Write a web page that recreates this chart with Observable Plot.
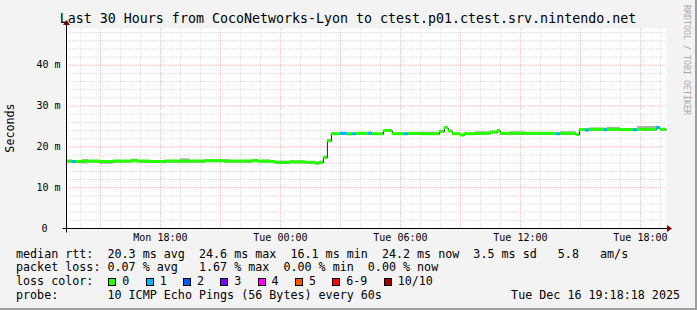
<!DOCTYPE html>
<html>
<head>
<meta charset="utf-8">
<script src="https://cdn.jsdelivr.net/npm/d3@7"></script>
<script src="https://cdn.jsdelivr.net/npm/@observablehq/plot@0.6"></script>
<style>
  body { margin: 0; background: #f3f3f3; }
  #chart svg { display: block; }
</style>
</head>
<body>
<div id="chart"></div>
<script>
// ---------- data ----------
const startTime = "Mon 13:18:18";
const endTime = "Tue 19:18:18";

const segStart = [
  "Mon 13:18","Mon 13:36","Mon 13:48","Mon 14:06","Mon 14:24","Mon 15:00","Mon 15:39","Mon 16:33",
  "Mon 16:54","Mon 17:30","Mon 18:15","Mon 19:00","Mon 19:30","Mon 20:15","Mon 21:12","Mon 21:30",
  "Mon 22:36","Mon 22:54","Mon 23:09","Mon 23:30","Mon 23:45","Tue 00:30","Tue 01:15","Tue 01:45",
  "Tue 01:57","Tue 02:09","Tue 02:21","Tue 02:33","Tue 03:00","Tue 03:21","Tue 03:36","Tue 03:48",
  "Tue 04:24","Tue 04:36","Tue 05:09","Tue 05:36","Tue 06:12","Tue 06:24","Tue 07:00","Tue 07:57",
  "Tue 08:12","Tue 08:24","Tue 08:36","Tue 09:00","Tue 09:12","Tue 09:45","Tue 10:30","Tue 10:51",
  "Tue 11:00","Tue 11:30","Tue 12:15","Tue 13:48","Tue 14:00","Tue 14:48","Tue 14:57","Tue 15:15",
  "Tue 15:27","Tue 16:12","Tue 16:21","Tue 17:00","Tue 17:39","Tue 17:51","Tue 18:48","Tue 19:00"
];
const median = [
  16.4,16.3,16.3,16.4,16.4,16.3,16.4,16.5,
  16.4,16.3,16.4,16.4,16.4,16.5,16.4,16.4,
  16.5,16.4,16.4,16.3,16.1,16.2,16.1,15.9,
  16.1,17.3,21.4,23.1,23.2,23.1,23.1,23.2,
  23.2,23.1,23.9,23.1,23.1,23.2,23.1,23.7,
  24.6,23.8,23.1,22.8,23.1,23.2,23.5,23.9,
  23.2,23.2,23.2,23.1,23.2,22.9,24.1,24.0,
  24.2,24.1,24.2,24.1,24.1,24.2,24.6,24.2
];
const smokeLo = [
  16.0,16.0,15.9,15.8,16.0,15.7,16.0,16.1,
  16.0,15.9,16.0,16.0,16.0,16.1,16.0,16.0,
  16.1,16.0,16.0,15.9,15.7,15.8,15.8,15.6,
  15.8,17.0,21.1,22.8,22.9,22.7,22.8,22.9,
  22.8,22.8,23.6,22.8,22.8,22.9,22.8,23.4,
  24.3,23.5,22.8,22.5,22.8,22.9,23.2,23.6,
  22.9,22.8,22.9,22.8,22.8,22.6,23.8,23.7,
  23.8,23.7,23.9,23.8,23.7,23.9,24.3,23.9
];
const smokeHi = [
  16.7,16.6,16.6,16.9,16.7,16.6,16.7,17.0,
  16.7,16.6,16.7,17.1,16.7,16.8,16.9,16.7,
  16.9,16.7,16.8,16.6,16.5,16.6,16.4,16.3,
  16.4,17.7,21.8,23.4,23.5,23.4,23.4,23.5,
  23.6,23.4,24.2,23.4,23.4,23.5,23.6,24.0,
  24.9,24.1,23.4,23.1,23.4,23.7,23.8,24.2,
  23.5,23.7,23.5,23.4,23.7,23.2,24.4,24.5,
  24.6,24.6,24.8,24.5,24.5,25.0,24.9,24.5
];
const lossBucket = [
  0,1,0,0,0,0,0,0,
  0,0,0,0,0,0,0,0,
  0,0,0,0,0,0,0,0,
  0,0,0,0,1,0,1,0,
  1,0,0,0,1,0,0,0,
  0,0,0,0,0,0,0,0,
  0,0,0,1,0,0,0,1,
  0,1,0,0,1,0,1,0
];

const xTickValues = ["Mon 18:00","Tue 00:00","Tue 06:00","Tue 12:00","Tue 18:00"];
const yTickValues = [0, 10, 20, 30, 40];
const yTickLabels = ["0", "10 m", "20 m", "30 m", "40 m"];

const lossLabels = ["0","1","2","3","4","5","6-9","10/10"];
const lossColors = ["#26ff00","#00b8ff","#0059ff","#7e00ff","#ff00ff","#ff5500","#ff0000","#a10000"];

const titleText = "Last 30 Hours from CocoNetworks-Lyon to ctest.p01.ctest.srv.nintendo.net";
const legendLines = [
  "median rtt:  20.3 ms avg  24.6 ms max  16.1 ms min  24.2 ms now  3.5 ms sd   5.8   am/s",
  "packet loss: 0.07 % avg   1.67 % max  0.00 % min  0.00 % now",
  "loss color:",
  "probe:       10 ICMP Echo Pings (56 Bytes) every 60s"
];
const stampText = "Tue Dec 16 19:18:18 2025";
const yLabel = "Seconds";
const sideText = "RRDTOOL / TOBI OETIKER";

// ---------- helpers ----------
function toHours(s) {
  const [day, hm] = s.split(" ");
  const [h, m, sec = 0] = hm.split(":").map(Number);
  return (day === "Tue" ? 24 : 0) + h + m / 60 + sec / 3600;
}
const x0 = toHours(startTime), x1 = toHours(endTime);
const segments = segStart.map((s, i) => ({
  t1: toHours(s),
  t2: i + 1 < segStart.length ? toHours(segStart[i + 1]) : x1,
  m: median[i], lo: smokeLo[i], hi: smokeHi[i], loss: lossBucket[i]
}));
const linePts = segments.map(d => ({t: d.t1, v: d.m})).concat([{t: x1, v: median[median.length - 1]}]);

const hourGrid = d3.range(Math.ceil(x0), x1, 1);
const minorX = hourGrid.filter(h => h % 3 !== 0);
const majorX = hourGrid.filter(h => h % 3 === 0);
const minorY = d3.range(2, 49, 2).filter(v => v % 10 !== 0);
const majorY = [10, 20, 30, 40];
const xTicks = xTickValues.map(s => ({t: toHours(s), label: s}));
const yTicks = yTickValues.map((v, i) => ({v, label: yTickLabels[i]}));

const bandHalf = 0.37;
const FONT = "DejaVu Sans Mono";

const plot = Plot.plot({
  width: 697, height: 310,
  marginLeft: 66, marginRight: 31, marginTop: 28, marginBottom: 82,
  x: {domain: [x0, x1], axis: null},
  y: {domain: [0, 49], axis: null},
  color: {type: "identity"},
  style: {background: "#f3f3f3", fontFamily: FONT, fontSize: "10px", color: "black", overflow: "visible"},
  marks: [
    Plot.frame({fill: "white", stroke: "none"}),
    Plot.ruleY(minorY, {stroke: "#dadada", strokeDasharray: "1,1"}),
    Plot.ruleX(minorX, {stroke: "#dadada", strokeDasharray: "1,1"}),
    Plot.ruleY(majorY, {stroke: "#f2b8b8", strokeDasharray: "1,1"}),
    Plot.ruleX(majorX, {stroke: "#f2b8b8", strokeDasharray: "1,1"}),
    Plot.rect(segments, {x1: "t1", x2: "t2", y1: "lo", y2: "hi", fill: "#b4b4b4"}),
    Plot.line(linePts, {x: "t", y: "v", curve: "step-after", stroke: "#202020", strokeWidth: 1}),
    Plot.rect(segments, {x1: "t1", x2: "t2", y1: d => d.m - bandHalf, y2: d => d.m + bandHalf, fill: d => lossColors[d.loss]}),
    Plot.text(xTicks, {x: "t", text: "label", frameAnchor: "bottom", dy: 9, lineAnchor: "middle", fill: "black"}),
    Plot.text(yTicks.filter(d => d.v > 0), {y: "v", text: "label", frameAnchor: "left", textAnchor: "end", dx: -6, fill: "black"}),
    Plot.text(yTicks.filter(d => d.v === 0), {y: "v", text: "label", frameAnchor: "left", textAnchor: "end", dx: -19, fill: "black"})
  ]
});
document.getElementById("chart").appendChild(plot);

// ---------- decorations: axes, titles, legend ----------
const svg = d3.select(plot);
const xs = plot.scale("x"), ys = plot.scale("y");
const xL = xs.range[0], xR = xs.range[1];
const yB = ys.range[0], yT = ys.range[1];
const ax = Math.round(xL) + 0.5, ay = Math.round(yB) + 0.5;
const g = svg.append("g").attr("text-anchor", "start");

// axes with arrows
g.append("line").attr("x1", ax - 4).attr("x2", xR + 2).attr("y1", ay).attr("y2", ay).attr("stroke", "black");
g.append("line").attr("x1", ax).attr("x2", ax).attr("y1", ay + 4).attr("y2", yT - 3).attr("stroke", "black");
g.append("path").attr("d", `M${xR + 1},${ay - 3.5}L${xR + 6},${ay}L${xR + 1},${ay + 3.5}Z`).attr("fill", "#8b0000");
g.append("path").attr("d", `M${ax - 3.5},${yT - 3}L${ax},${yT - 8}L${ax + 3.5},${yT - 3}Z`).attr("fill", "#8b0000");

// title
g.append("text").attr("x", 348).attr("y", 23).attr("text-anchor", "middle")
  .attr("font-family", FONT).attr("font-size", "13.3px").attr("fill", "black").text(titleText);

// y label
g.append("text").attr("transform", `translate(14,${(yB + yT) / 2}) rotate(-90)`).attr("text-anchor", "middle")
  .attr("font-family", FONT).attr("font-size", "11.7px").attr("fill", "black").text(yLabel);

// side watermark
g.append("text").attr("transform", "translate(684,5) rotate(90)").attr("text-anchor", "start")
  .attr("font-family", FONT).attr("font-size", "8.3px").attr("fill", "#a8a8a8").text(sideText);

// legend lines
const baselines = [257.5, 271.4, 285.3, 299.2];
legendLines.forEach((s, i) => {
  g.append("text").attr("x", 16).attr("y", baselines[i]).attr("text-anchor", "start")
    .attr("font-family", FONT).attr("font-size", "11.7px").attr("fill", "black")
    .style("white-space", "pre").text(s);
});
g.append("text").attr("x", 680).attr("y", baselines[3]).attr("text-anchor", "end")
  .attr("font-family", FONT).attr("font-size", "11.7px").attr("fill", "black").text(stampText);

// loss color boxes
const charW = 7.03;
let bx = 108.3;
lossLabels.forEach((lab, i) => {
  g.append("rect").attr("x", Math.round(bx) + 0.5).attr("y", 278.5).attr("width", 7).attr("height", 7)
    .attr("fill", lossColors[i]).attr("stroke", "black").attr("stroke-width", 1);
  g.append("text").attr("x", bx + 14).attr("y", baselines[2]).attr("text-anchor", "start")
    .attr("font-family", FONT).attr("font-size", "11.7px").attr("fill", "black").text(lab);
  bx += 15 + lab.length * charW + 15.3;
});

// 3D border on right / bottom
g.append("rect").attr("x", 695).attr("y", 0).attr("width", 2).attr("height", 310).attr("fill", "#9e9e9e");
g.append("rect").attr("x", 0).attr("y", 308).attr("width", 697).attr("height", 2).attr("fill", "#9e9e9e");
</script>
</body>
</html>
